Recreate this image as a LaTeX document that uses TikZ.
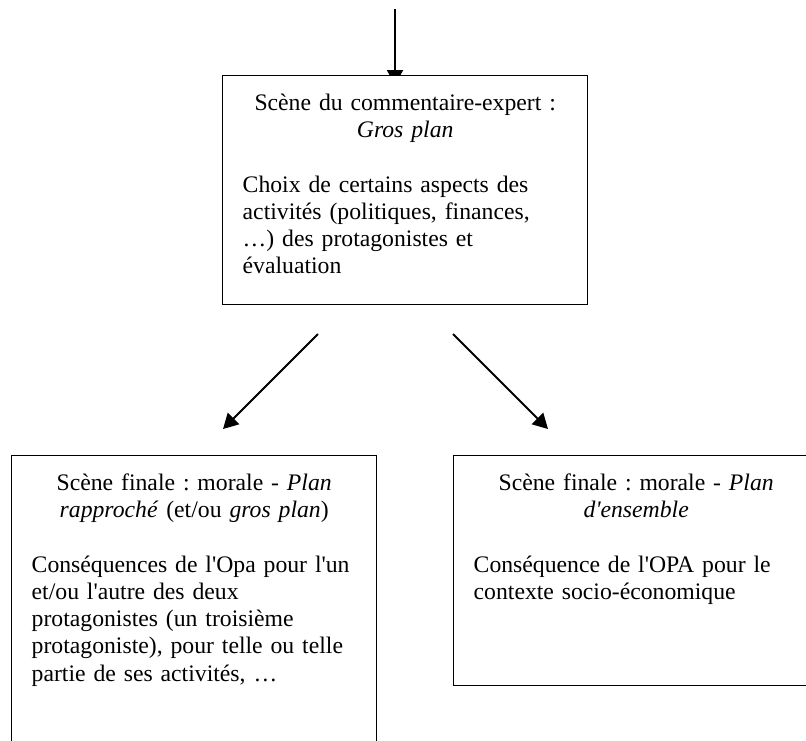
\documentclass[tikz,border=0pt]{standalone}
\usepackage{fontspec}
\setmainfont{Liberation Serif}
\usetikzlibrary{arrows.meta,backgrounds}
\newcommand\apos{\textquotesingle}
\frenchspacing
\tikzset{
	scene/.style={draw, line width=0.7pt, fill=white, anchor=north west,
		inner xsep=10pt, inner ysep=0pt, text width=162.5pt, text height=17.5pt,
		font=\fontsize{11.85}{13.6}\selectfont},
	flow/.style={line width=1pt, -{Triangle[length=7.5pt,width=8pt]}}
}

\begin{document}
\begin{tikzpicture}[x=0.5pt,y=-0.5pt]
		%%%%% START %%%%%
		\useasboundingbox (0,0) rectangle (806,740);
		\clip (0,0) rectangle (806,740);
		
		% boxes
		\node[scene, text depth=97pt] (expert) at (222,75) {%
			{\centering Scène du commentaire-expert :\\ \textit{Gros plan}\par}
			\vspace{\baselineskip}
			{\raggedright Choix de certains aspects des\\ activités (politiques, finances,\\ …) des protagonistes et\\ évaluation\par}};
		\node[scene, text depth=137pt] (rapproche) at (11,455) {%
			{\centering Scène finale : morale - \textit{Plan}\\ \textit{rapproché} (et/ou \textit{gros plan})\par}
			\vspace{\baselineskip}
			{\raggedright Conséquences de l\apos Opa pour l\apos un\\ et/ou l\apos autre des deux\\ protagonistes (un troisième\\ protagoniste), pour telle ou telle\\ partie de ses activités, …\par}};
		\node[scene, text depth=97.5pt] (ensemble) at (453,455) {%
			{\centering Scène finale : morale - \textit{Plan}\\ \textit{d\apos ensemble}\par}
			\vspace{\baselineskip}
			{\raggedright Conséquence de l\apos OPA pour le\\ contexte socio-économique\par}};
		
		% arrows
		\coordinate (entree) at (395,9);
		\coordinate (gauche) at (318,334);
		\coordinate (gauche fin) at (223,429);
		\coordinate (droite) at (453,334);
		\coordinate (droite fin) at (548,429);
		\begin{scope}[on background layer]
			\draw[flow, shorten >=-5pt] (entree) -- (entree |- expert.north);
		\end{scope}
		\draw[flow] (gauche) -- (gauche fin);
		\draw[flow] (droite) -- (droite fin);
		%%%%% END %%%%%
\end{tikzpicture}
\end{document}
